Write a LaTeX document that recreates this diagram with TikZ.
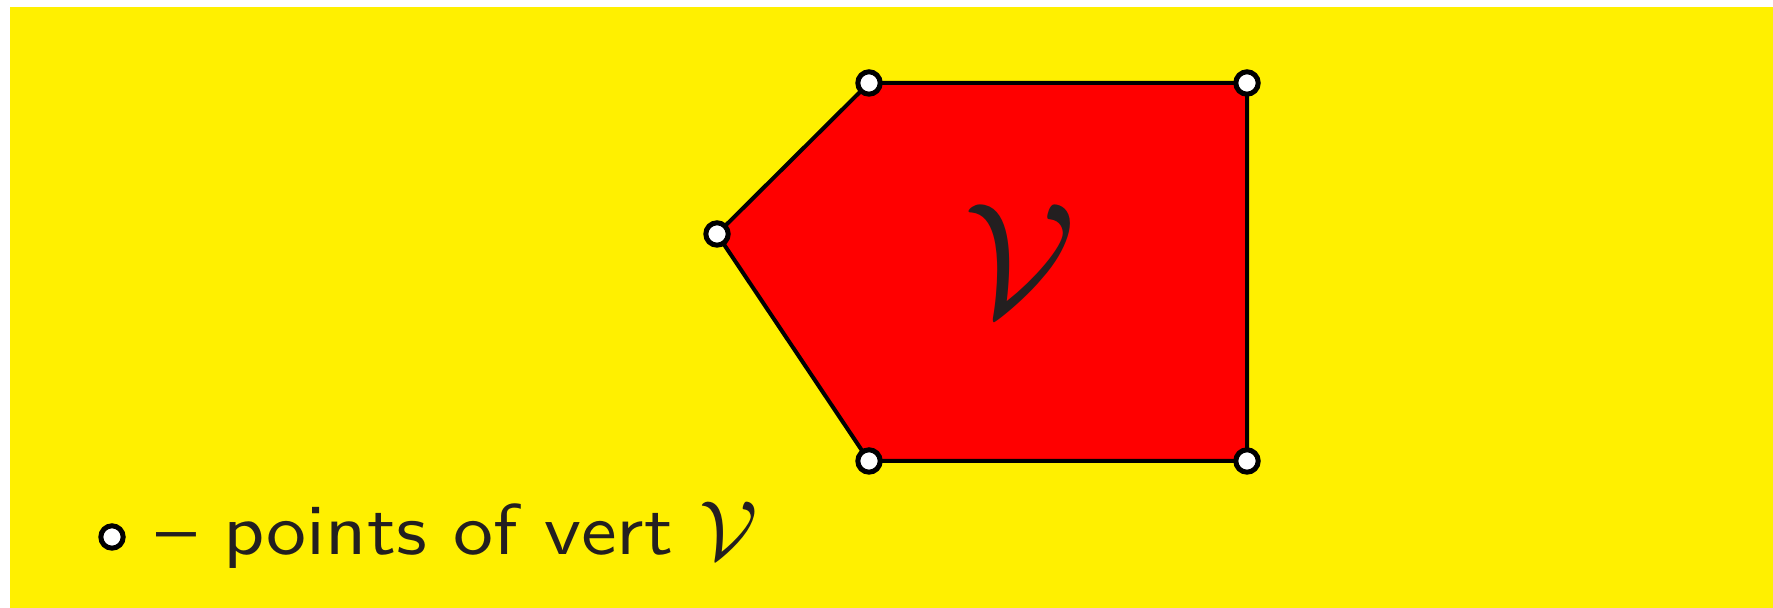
\documentclass[tikz,border=0pt]{standalone}
\usepackage{graphicx}
\usepackage{tikz}
\definecolor{bgyellow}{RGB}{255,240,0}
\definecolor{polyred}{RGB}{255,0,0}
\definecolor{txt}{RGB}{35,31,32}
\newcommand{\calV}{{\usefont{OMS}{cmsy}{m}{n}V}}
\tikzset{
  vertpt/.style={circle,draw=black,fill=white,line width=2.5pt,minimum size=11.2pt,inner sep=0pt},
  edge/.style={draw=black,line width=2pt,line join=miter},
  lbl/.style={text=txt,inner sep=0pt}
}
\begin{document}
\begin{tikzpicture}[x=0.5pt,y=-0.5pt]
\useasboundingbox (0,0) rectangle (1773,608);
\fill[white] (0,0) rectangle (1773,608);
\fill[bgyellow] (10,7) rectangle (1773,608);
\coordinate (A) at (869,83);
\coordinate (B) at (1247,83);
\coordinate (C) at (1247,461);
\coordinate (D) at (869,461);
\coordinate (E) at (717,234);
\path[edge,fill=polyred] (A) -- (B) -- (C) -- (D) -- (E) -- cycle;
\node[lbl] (bigV) at (1013,260) {\fontsize{10}{12}\selectfont\scalebox{8.1}{\calV}};
\foreach \p in {A,B,C,D,E} \node[vertpt] (n\p) at (\p) {};
\node[vertpt] (leg) at (112,537) {};
\node[lbl,anchor=base west] (legtext) at (156,555) {\fontsize{10}{12}\selectfont\scalebox{4.0}[3.6]{\sffamily -- points of vert}};
\node[lbl] (legV) at (725,531) {\fontsize{10}{12}\selectfont\scalebox{4.2}{\calV}};
\end{tikzpicture}
\end{document}
